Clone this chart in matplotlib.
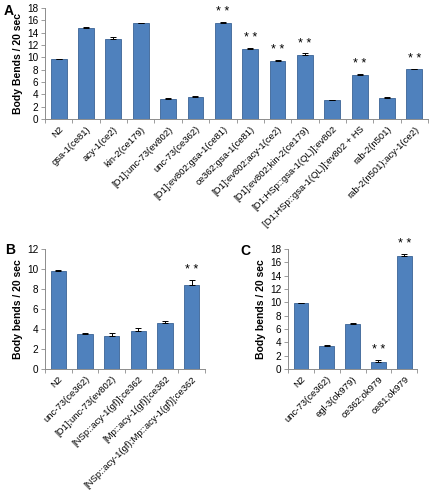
import matplotlib
matplotlib.use("Agg")
import matplotlib.pyplot as plt
import numpy as np

plt.rcParams['font.family'] = ['Liberation Sans', 'DejaVu Sans']

# panel A
a_names = ["N2", "gsa-1(ce81)", "acy-1(ce2)", "kin-2(ce179)", "[D1];unc-73(ev802)",
           "unc-73(ce362)", "[D1];ev802;gsa-1(ce81)", "ce362;gsa-1(ce81)",
           "[D1];ev802;acy-1(ce2)", "[D1];ev802;kin-2(ce179)",
           "[D1;HSp::gsa-1(QL)];ev802", "[D1;HSp::gsa-1(QL)];ev802 + HS",
           "rab-2(n501)", "rab-2(n501);acy-1(ce2)"]
a_vals = [9.7, 14.7, 13.0, 15.5, 3.3, 3.6, 15.5, 11.3, 9.4, 10.4, 3.05, 7.15, 3.35, 8.05]
a_err = [0.1, 0.3, 0.25, 0.15, 0.15, 0.15, 0.3, 0.3, 0.15, 0.25, 0.05, 0.15, 0.15, 0.15]
a_sig = [False] * 6 + [True, True, True, True, False, True, False, True]

# panel B
b_names = ["N2", "unc-73(ce362)", "[D1];unc-73(ev802)", "[NSp::acy-1(gf)];ce362",
           "[Mp::acy-1(gf)];ce362", "[NSp::acy-1(gf);Mp::acy-1(gf)];ce362"]
b_vals = [9.8, 3.45, 3.3, 3.75, 4.6, 8.35]
b_err = [0.08, 0.15, 0.25, 0.3, 0.2, 0.55]
b_sig = [False, False, False, False, False, True]

# panel C
c_names = ["N2", "unc-73(ce362)", "egl-3(ok979)", "ce362;ok979", "ce81;ok979"]
c_vals = [9.9, 3.5, 6.7, 1.1, 17.0]
c_err = [0.05, 0.1, 0.25, 0.2, 0.3]
c_sig = [False, False, False, True, True]

bar_color = "#4F81BD"
edge_color = "#3B6496"
spine_color = "#8C8C8C"


def draw_panel(ax, names, vals, errs, sig, ymax, ylabel, star_pad):
    x = np.arange(len(names))
    ax.bar(x, vals, width=0.58, color=bar_color, edgecolor=edge_color, linewidth=0.6, zorder=2)
    ax.errorbar(x, vals, yerr=[np.zeros(len(errs)), errs], fmt="none", ecolor="black",
                elinewidth=0.7, capsize=2, capthick=0.7, zorder=3)
    for xi, v, e, s in zip(x, vals, errs, sig):
        if s:
            ax.text(xi, v + e + star_pad, "* *", ha="center", va="bottom", fontsize=9)
    ax.set_xlim(-0.5, len(names) - 0.5)
    ax.set_ylim(0, ymax)
    ax.set_yticks(np.arange(0, ymax + 1, 2))
    ax.set_xticks(x)
    ax.set_xticklabels(names, rotation=45, ha="right", rotation_mode="anchor", fontsize=6.8)
    ax.set_xticks(np.arange(-0.5, len(names)), minor=True)
    ax.tick_params(axis="x", which="major", length=0, pad=4)
    ax.tick_params(axis="x", which="minor", length=3, color=spine_color, width=0.6)
    ax.tick_params(axis="y", length=3, color=spine_color, width=0.6, labelsize=7.2, pad=2)
    for side in ["top", "right"]:
        ax.spines[side].set_visible(False)
    for side in ["left", "bottom"]:
        ax.spines[side].set_color(spine_color)
        ax.spines[side].set_linewidth(0.7)
    ax.set_ylabel(ylabel, fontsize=7.5, fontweight="bold", labelpad=3)


fig = plt.figure(figsize=(4.3, 4.9), dpi=100)

ax_a = fig.add_axes([0.1047, 0.757, 0.8907, 0.2265])
draw_panel(ax_a, a_names, a_vals, a_err, a_sig, 18, "Body Bends / 20 sec", 0.6)

ax_b = fig.add_axes([0.1047, 0.247, 0.372, 0.245])
draw_panel(ax_b, b_names, b_vals, b_err, b_sig, 12, "Body bends / 20 sec", 0.4)

ax_c = fig.add_axes([0.67, 0.247, 0.30, 0.245])
draw_panel(ax_c, c_names, c_vals, c_err, c_sig, 18, "Body bends / 20 sec", 0.6)

fig.text(0.008, 0.978, "A", fontsize=10, fontweight="bold", va="center")
fig.text(0.012, 0.49, "B", fontsize=10, fontweight="bold", va="center")
fig.text(0.558, 0.488, "C", fontsize=10, fontweight="bold", va="center")

fig.savefig("out.png", dpi=100)
